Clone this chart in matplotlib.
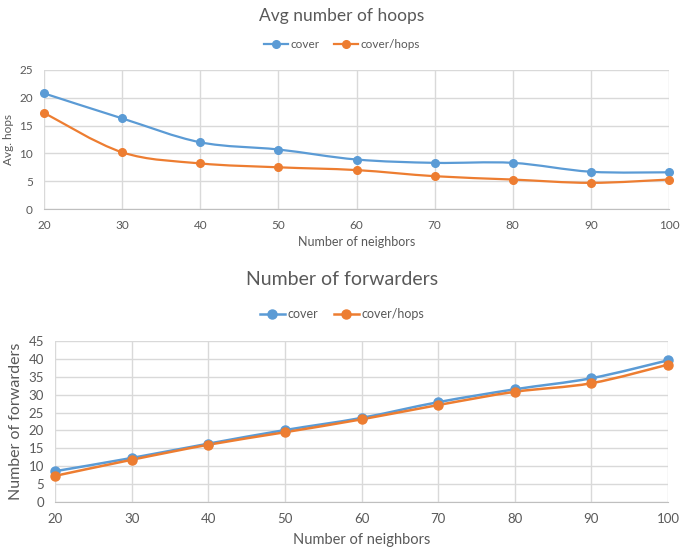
import numpy as np
import matplotlib
matplotlib.use("Agg")
import matplotlib.pyplot as plt
from matplotlib.path import Path
from matplotlib.patches import PathPatch
from matplotlib.lines import Line2D

# Data
neighbors = [20, 30, 40, 50, 60, 70, 80, 90, 100]
hops_cover = [20.8, 16.3, 12.0, 10.7, 8.9, 8.3, 8.3, 6.7, 6.6]
hops_cover_hops = [17.3, 10.2, 8.2, 7.5, 7.0, 5.9, 5.3, 4.7, 5.3]
fwd_cover = [8.6, 12.3, 16.3, 20.1, 23.5, 27.9, 31.5, 34.6, 39.6]
fwd_cover_hops = [7.3, 11.8, 16.0, 19.5, 23.1, 27.1, 30.8, 33.2, 38.4]
series_names = ["cover", "cover/hops"]
x_ticks = [20, 30, 40, 50, 60, 70, 80, 90, 100]

BLUE = "#5B9BD5"
ORANGE = "#ED7D31"
TEXT = "#595959"
GRID = "#D9D9D9"
plt.rcParams["font.family"] = ["Lato", "DejaVu Sans"]


def smooth_path(x, y):
    """Cubic Bezier path through the points (Catmull-Rom style tangents)."""
    x = np.asarray(x, float)
    y = np.asarray(y, float)
    verts = [(x[0], y[0])]
    codes = [Path.MOVETO]
    n = len(x)
    for i in range(n - 1):
        p0 = np.array([x[max(i - 1, 0)], y[max(i - 1, 0)]])
        p1 = np.array([x[i], y[i]])
        p2 = np.array([x[i + 1], y[i + 1]])
        p3 = np.array([x[min(i + 2, n - 1)], y[min(i + 2, n - 1)]])
        c1 = p1 + (p2 - p0) / 6.0
        c2 = p2 - (p3 - p1) / 6.0
        verts += [tuple(c1), tuple(c2), tuple(p2)]
        codes += [Path.CURVE4] * 3
    return Path(verts, codes)


def draw_panel(fig, rect, title, title_y, title_size, legend_y, ys, ylim,
               yticks, ylabel, ylabel_size, tick_size, xlabel_y, xlabel_size,
               ms, lw, legend_size):
    ax = fig.add_axes(rect)
    for vals, col in zip(ys, [BLUE, ORANGE]):
        ax.add_patch(PathPatch(smooth_path(neighbors, vals), fill=False,
                               edgecolor=col, lw=lw, capstyle="round",
                               joinstyle="round", zorder=3, clip_on=False))
        ax.plot(neighbors, vals, ls="none", marker="o", ms=ms, color=col,
                zorder=4, clip_on=False)
    ax.set_xlim(20, 100)
    ax.set_ylim(*ylim)
    ax.set_xticks(x_ticks)
    ax.set_yticks(yticks)
    ax.grid(True, color=GRID, lw=1.0)
    ax.set_axisbelow(True)
    for s in ["top", "right", "left"]:
        ax.spines[s].set_visible(False)
    ax.spines["bottom"].set_color("#BFBFBF")
    ax.tick_params(length=0, labelsize=tick_size, colors=TEXT, pad=8)
    ax.set_ylabel(ylabel, fontsize=ylabel_size, color=TEXT, labelpad=4)
    cx = rect[0] + rect[2] / 2
    fig.text(cx, xlabel_y, "Number of neighbors",
             ha="center", va="center", fontsize=xlabel_size, color=TEXT)
    fig.text(0.503, title_y, title,
             ha="center", va="center", fontsize=title_size, color=TEXT)
    handles = [Line2D([], [], color=c, lw=lw, marker="o", ms=ms)
               for c in [BLUE, ORANGE]]
    fig.legend(handles, series_names, loc="center",
               bbox_to_anchor=(0.503, legend_y),
               ncol=2, frameon=False, fontsize=legend_size, labelcolor=TEXT,
               handlelength=2.0, handletextpad=0.25, columnspacing=1.2)
    return ax


W, H = 680, 550
fig = plt.figure(figsize=(W / 100, H / 100), dpi=100)


def r(l, t, rgt, b):
    return [l / W, 1 - b / H, (rgt - l) / W, (b - t) / H]


draw_panel(fig, r(44, 70, 669, 209), "Avg number of hoops", 1 - 16 / H, 12.5,
           1 - 45 / H, [hops_cover, hops_cover_hops], (0, 25),
           [0, 5, 10, 15, 20, 25], "Avg. hops", 8.5, 8.5, 1 - 242 / H, 9, 5.5,
           1.6, 8.5)
draw_panel(fig, r(55, 341, 668, 502), "Number of forwarders", 1 - 280 / H, 14,
           1 - 314 / H, [fwd_cover, fwd_cover_hops], (0, 45),
           [0, 5, 10, 15, 20, 25, 30, 35, 40, 45], "Number of forwarders", 11.5,
           9.5, 1 - 540 / H, 10.5, 6.5, 1.8, 9)

fig.savefig("out.png", dpi=100, facecolor="white")
